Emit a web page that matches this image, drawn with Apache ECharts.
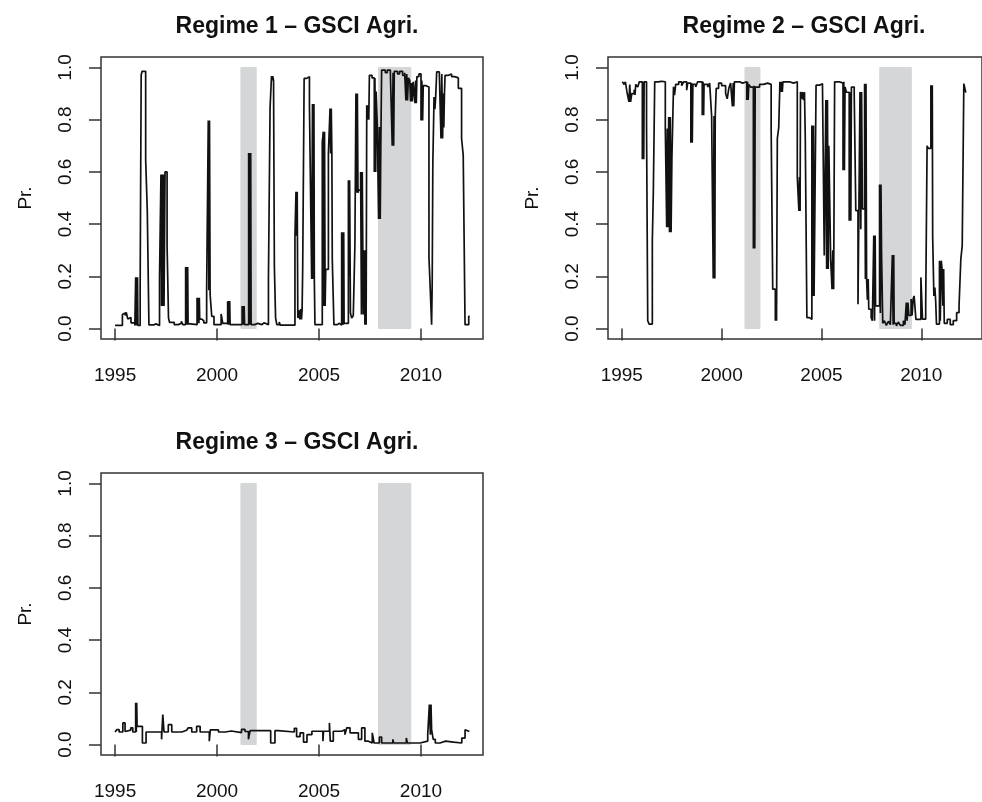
<!DOCTYPE html>
<html>
<head>
<meta charset="utf-8">
<script src="https://cdn.jsdelivr.net/npm/echarts@6/dist/echarts.min.js"></script>
<style>
  html, body { margin: 0; padding: 0; background: #ffffff; }
  #chart { width: 982px; height: 802px; }
</style>
</head>
<body>
<div id="chart"></div>
<script>
// Smoothed regime probabilities (step series: [year, probability] change points)
const regime1 = [
  [1995.00,0.012],[1995.36,0.054],[1995.44,0.060],[1995.50,0.050],[1995.55,0.062],[1995.62,0.037],[1995.70,0.042],[1995.78,0.022],[1995.97,0.012],
  [1996.01,0.196],[1996.04,0.012],[1996.06,0.196],[1996.08,0.012],[1996.10,0.196],[1996.12,0.012],
  [1996.23,0.156],[1996.28,0.970],[1996.32,0.985],[1996.50,0.647],[1996.58,0.450],[1996.66,0.014],[1996.90,0.018],[1997.00,0.012],
  [1997.18,0.195],[1997.25,0.590],[1997.28,0.086],[1997.31,0.590],[1997.34,0.086],[1997.37,0.590],[1997.40,0.086],[1997.45,0.600],[1997.55,0.317],[1997.62,0.040],[1997.67,0.024],
  [1997.90,0.015],[1998.10,0.020],[1998.25,0.028],[1998.32,0.015],
  [1998.46,0.236],[1998.49,0.015],[1998.51,0.236],[1998.54,0.015],[1998.56,0.236],[1998.58,0.018],[1998.70,0.025],[1998.78,0.015],
  [1999.02,0.118],[1999.05,0.020],[1999.08,0.118],[1999.11,0.020],[1999.13,0.118],[1999.15,0.036],[1999.25,0.030],[1999.35,0.022],
  [1999.49,0.147],[1999.57,0.797],[1999.60,0.147],[1999.63,0.797],[1999.66,0.130],[1999.74,0.047],[1999.85,0.015],
  [2000.20,0.056],[2000.28,0.020],
  [2000.52,0.105],[2000.55,0.015],[2000.57,0.105],[2000.60,0.015],[2000.62,0.105],[2000.64,0.015],
  [2001.23,0.086],[2001.26,0.015],[2001.28,0.086],[2001.31,0.015],[2001.33,0.086],[2001.35,0.015],
  [2001.55,0.672],[2001.58,0.015],[2001.60,0.672],[2001.63,0.015],[2001.65,0.672],[2001.67,0.015],
  [2001.85,0.020],[2002.00,0.015],[2002.20,0.022],[2002.30,0.015],
  [2002.52,0.190],[2002.60,0.846],[2002.67,0.967],[2002.70,0.950],[2002.73,0.967],[2002.77,0.950],[2002.81,0.240],[2002.87,0.041],[2002.93,0.015],
  [2003.05,0.025],[2003.10,0.013],[2003.40,0.018],[2003.45,0.013],
  [2003.82,0.355],[2003.87,0.524],[2003.90,0.355],[2003.93,0.524],[2003.96,0.040],
  [2004.02,0.070],[2004.06,0.035],[2004.10,0.075],[2004.14,0.035],[2004.17,0.070],
  [2004.20,0.233],[2004.27,0.958],[2004.40,0.965],[2004.53,0.855],[2004.61,0.860],[2004.64,0.190],[2004.68,0.860],[2004.72,0.190],[2004.75,0.860],[2004.77,0.190],[2004.80,0.015],
  [2005.16,0.714],[2005.21,0.754],[2005.24,0.086],[2005.27,0.754],[2005.30,0.086],[2005.33,0.227],[2005.46,0.670],[2005.54,0.843],[2005.57,0.670],[2005.60,0.843],[2005.63,0.670],[2005.65,0.265],[2005.73,0.015],
  [2005.90,0.020],[2006.00,0.013],
  [2006.11,0.369],[2006.14,0.015],[2006.16,0.369],[2006.19,0.015],[2006.21,0.369],[2006.23,0.020],
  [2006.44,0.568],[2006.47,0.200],[2006.50,0.568],[2006.54,0.060],[2006.60,0.040],[2006.68,0.050],
  [2006.76,0.323],[2006.81,0.900],[2006.85,0.520],[2006.88,0.900],[2006.91,0.520],[2006.94,0.530],
  [2007.04,0.600],[2007.08,0.054],[2007.12,0.600],[2007.17,0.054],[2007.21,0.300],[2007.25,0.015],[2007.28,0.300],[2007.31,0.015],
  [2007.34,0.855],[2007.37,0.800],[2007.40,0.855],[2007.44,0.800],[2007.47,0.970],[2007.60,0.960],
  [2007.71,0.600],[2007.74,0.960],[2007.78,0.600],[2007.80,0.908],[2007.86,0.772],[2007.92,0.420],[2007.96,0.772],[2008.00,0.420],[2008.03,0.700],[2008.07,0.990],
  [2008.25,0.980],[2008.35,0.990],[2008.50,0.975],[2008.59,0.700],[2008.63,0.980],[2008.66,0.700],[2008.69,0.985],[2008.85,0.975],[2008.95,0.985],[2009.10,0.970],[2009.20,0.980],
  [2009.26,0.874],[2009.30,0.975],[2009.34,0.874],[2009.38,0.960],[2009.45,0.950],[2009.49,0.870],[2009.53,0.940],[2009.57,0.870],[2009.62,0.945],
  [2009.70,0.863],[2009.74,0.950],[2009.77,0.863],[2009.80,0.965],[2009.90,0.975],
  [2010.00,0.797],[2010.04,0.950],[2010.08,0.797],[2010.11,0.930],[2010.25,0.925],[2010.39,0.273],[2010.44,0.177],[2010.52,0.015],[2010.55,0.177],[2010.58,0.630],
  [2010.64,0.887],[2010.68,0.840],[2010.72,0.887],[2010.77,0.983],[2010.90,0.975],
  [2010.98,0.728],[2011.02,0.975],[2011.06,0.728],[2011.09,0.900],[2011.12,0.770],[2011.15,0.900],[2011.18,0.970],[2011.35,0.975],[2011.50,0.965],[2011.65,0.960],
  [2011.83,0.920],[2011.99,0.728],[2012.07,0.664],[2012.16,0.015],[2012.34,0.047],[2012.39,0.047]
];

const regime2 = [
  [1995.03,0.945],[1995.12,0.935],[1995.18,0.945],[1995.26,0.906],[1995.36,0.868],[1995.40,0.935],[1995.44,0.868],[1995.50,0.900],[1995.62,0.915],[1995.66,0.895],[1995.70,0.935],[1995.80,0.925],[1995.88,0.945],
  [1996.03,0.648],[1996.07,0.945],[1996.10,0.648],[1996.12,0.945],[1996.24,0.778],[1996.30,0.030],[1996.37,0.017],[1996.53,0.337],[1996.58,0.522],[1996.65,0.945],[1996.80,0.947],[1997.00,0.945],
  [1997.18,0.766],[1997.25,0.388],[1997.28,0.766],[1997.31,0.388],[1997.35,0.810],[1997.39,0.369],[1997.43,0.810],[1997.47,0.369],[1997.51,0.650],[1997.59,0.926],[1997.64,0.894],[1997.70,0.935],
  [1997.85,0.945],[1998.00,0.930],[1998.10,0.945],[1998.25,0.913],[1998.30,0.940],
  [1998.46,0.712],[1998.50,0.940],[1998.53,0.712],[1998.56,0.935],[1998.70,0.925],[1998.80,0.945],
  [1999.03,0.817],[1999.07,0.945],[1999.10,0.817],[1999.12,0.935],[1999.30,0.925],[1999.40,0.940],
  [1999.50,0.814],[1999.58,0.192],[1999.62,0.814],[1999.66,0.192],[1999.68,0.814],[1999.73,0.920],[1999.85,0.940],[2000.00,0.930],
  [2000.20,0.900],[2000.28,0.880],[2000.36,0.920],[2000.45,0.940],
  [2000.54,0.851],[2000.58,0.940],[2000.61,0.851],[2000.64,0.945],[2000.90,0.940],[2001.05,0.945],
  [2001.26,0.875],[2001.30,0.945],[2001.33,0.875],[2001.36,0.935],[2001.45,0.925],
  [2001.59,0.307],[2001.63,0.930],[2001.66,0.307],[2001.68,0.925],[2001.90,0.935],[2002.10,0.940],[2002.30,0.935],
  [2002.48,0.772],[2002.56,0.151],[2002.69,0.030],[2002.72,0.151],[2002.75,0.030],[2002.79,0.727],[2002.86,0.770],[2002.92,0.945],
  [2002.97,0.906],[2003.01,0.945],[2003.04,0.906],[2003.07,0.945],[2003.40,0.940],[2003.60,0.945],
  [2003.79,0.580],[2003.87,0.450],[2003.90,0.580],[2003.93,0.450],[2003.95,0.906],[2004.00,0.880],[2004.05,0.906],[2004.10,0.875],[2004.15,0.906],
  [2004.19,0.727],[2004.27,0.042],[2004.40,0.035],[2004.52,0.778],[2004.56,0.125],[2004.60,0.778],[2004.63,0.125],[2004.73,0.932],[2004.90,0.938],[2005.05,0.935],
  [2005.14,0.280],[2005.22,0.875],[2005.26,0.228],[2005.30,0.875],[2005.34,0.228],[2005.37,0.700],[2005.46,0.266],[2005.53,0.151],[2005.57,0.300],[2005.61,0.151],[2005.66,0.945],[2005.90,0.940],
  [2006.08,0.606],[2006.12,0.945],[2006.15,0.606],[2006.18,0.925],[2006.25,0.905],
  [2006.39,0.413],[2006.43,0.905],[2006.47,0.413],[2006.50,0.925],[2006.64,0.900],[2006.72,0.452],[2006.83,0.093],
  [2006.93,0.906],[2006.97,0.380],[2007.01,0.906],[2007.05,0.458],[2007.16,0.938],[2007.20,0.190],[2007.23,0.938],[2007.26,0.190],[2007.30,0.110],[2007.34,0.190],[2007.37,0.074],
  [2007.49,0.042],[2007.55,0.030],[2007.62,0.356],[2007.66,0.030],[2007.69,0.356],[2007.71,0.087],
  [2007.91,0.552],[2007.95,0.060],[2007.98,0.552],[2008.01,0.285],[2008.07,0.020],[2008.15,0.030],[2008.25,0.012],[2008.35,0.028],[2008.45,0.015],
  [2008.55,0.282],[2008.59,0.015],[2008.62,0.282],[2008.64,0.020],[2008.75,0.010],[2008.85,0.025],[2008.95,0.012],[2009.10,0.030],[2009.18,0.015],
  [2009.25,0.100],[2009.29,0.030],[2009.33,0.100],[2009.38,0.050],[2009.49,0.113],[2009.54,0.050],[2009.59,0.113],[2009.64,0.125],[2009.73,0.035],
  [2009.98,0.196],[2010.06,0.036],[2010.22,0.087],[2010.29,0.700],[2010.35,0.690],[2010.48,0.932],[2010.52,0.690],[2010.55,0.932],[2010.57,0.350],[2010.63,0.125],
  [2010.68,0.157],[2010.72,0.106],[2010.76,0.017],
  [2010.91,0.260],[2010.95,0.030],[2011.00,0.260],[2011.04,0.228],[2011.08,0.087],[2011.12,0.228],[2011.15,0.020],[2011.30,0.035],[2011.45,0.015],[2011.60,0.030],
  [2011.77,0.061],[2011.89,0.087],[2011.98,0.266],[2012.05,0.318],[2012.13,0.938],[2012.22,0.906],[2012.26,0.906]
];

const regime3 = [
  [1995.00,0.048],[1995.08,0.057],[1995.20,0.048],[1995.38,0.083],[1995.49,0.050],[1995.58,0.055],[1995.77,0.064],[1995.87,0.048],
  [1996.01,0.160],[1996.04,0.048],[1996.06,0.160],[1996.08,0.070],[1996.22,0.070],[1996.34,0.006],[1996.52,0.048],
  [1997.28,0.020],[1997.34,0.115],[1997.40,0.048],[1997.61,0.076],[1997.78,0.048],
  [1998.27,0.055],[1998.51,0.048],[1998.59,0.064],[1998.76,0.048],[1999.00,0.070],[1999.17,0.048],
  [1999.62,0.013],[1999.67,0.056],[2000.07,0.048],[2000.40,0.052],[2000.70,0.046],
  [2001.20,0.058],[2001.37,0.050],[2001.54,0.020],[2001.62,0.053],
  [2002.63,0.006],[2002.84,0.053],[2003.00,0.048],
  [2003.79,0.062],[2003.90,0.030],[2004.07,0.045],[2004.24,0.009],[2004.41,0.038],[2004.65,0.051],
  [2005.19,0.013],[2005.22,0.051],[2005.51,0.083],[2005.55,0.013],[2005.70,0.051],
  [2006.11,0.057],[2006.27,0.038],[2006.36,0.064],[2006.52,0.045],
  [2006.93,0.020],[2007.09,0.064],[2007.25,0.013],[2007.42,0.006],[2007.61,0.045],[2007.70,0.006],[2007.96,0.029],[2008.07,0.006],
  [2008.62,0.020],[2008.66,0.006],[2009.28,0.025],[2009.33,0.006],
  [2009.95,0.013],[2010.33,0.038],[2010.41,0.153],[2010.46,0.038],[2010.49,0.153],[2010.52,0.057],[2010.60,0.020],[2010.70,0.006],
  [2010.93,0.013],[2011.20,0.009],[2011.60,0.006],
  [2012.00,0.025],[2012.16,0.057],[2012.25,0.050],[2012.37,0.050]
];

// NBER recession periods, shaded in every panel
const recessionStarts = [2001.17, 2007.92];
const recessionEnds = [2001.92, 2009.50];

const panelTitles = ['Regime 1 \u2013 GSCI Agri.', 'Regime 2 \u2013 GSCI Agri.', 'Regime 3 \u2013 GSCI Agri.'];
const yearTicks = [1995, 2000, 2005, 2010];
const probTicks = [0, 0.2, 0.4, 0.6, 0.8, 1.0];

const FONT = "'Liberation Sans', Arial, Helvetica, sans-serif";
const INK = '#111111';
const X_MIN = 1994.31, X_MAX = 2013.04;
const Y_MIN = -0.04, Y_MAX = 1.04;

const panels = [
  { left: 101, top: 57, data: regime1 },
  { left: 608, top: 57, data: regime2 },
  { left: 101, top: 473, data: regime3 }
];

const chart = echarts.init(document.getElementById('chart'), null, { renderer: 'canvas' });

const option = {
  animation: false,
  backgroundColor: '#ffffff',
  title: panels.map((p, i) => ({
    text: panelTitles[i],
    left: p.left + 191,
    top: p.top - 47,
    textAlign: 'center',
    textStyle: { fontFamily: FONT, fontWeight: 'bold', fontSize: 23, color: INK }
  })),
  grid: panels.map(p => ({
    left: p.left, top: p.top, width: 382, height: 282,
    show: true, borderColor: '#333', borderWidth: 1.5, backgroundColor: 'transparent'
  })),
  xAxis: panels.map((p, i) => ({
    type: 'value', gridIndex: i, min: X_MIN, max: X_MAX,
    axisLine: { show: false },
    splitLine: { show: false },
    axisTick: { show: true, customValues: yearTicks, length: 12, lineStyle: { color: '#333', width: 1.5 } },
    axisLabel: { customValues: yearTicks, margin: 27, fontSize: 19, fontFamily: FONT, color: INK,
      formatter: v => String(Math.round(v)) }
  })),
  yAxis: panels.map((p, i) => ({
    type: 'value', gridIndex: i, min: Y_MIN, max: Y_MAX,
    name: 'Pr.', nameLocation: 'middle', nameGap: 66,
    nameTextStyle: { fontFamily: FONT, fontSize: 19, color: INK },
    axisLine: { show: false },
    splitLine: { show: false },
    axisTick: { show: true, customValues: probTicks, length: 12, lineStyle: { color: '#333', width: 1.5 } },
    axisLabel: { customValues: probTicks, rotate: 90, margin: 26, fontSize: 19, fontFamily: FONT, color: INK,
      formatter: v => v.toFixed(1) }
  })),
  series: panels.map((p, i) => ({
    type: 'line', xAxisIndex: i, yAxisIndex: i,
    step: 'end', showSymbol: false, symbol: 'none', clip: true,
    data: p.data,
    lineStyle: { color: INK, width: 1.7 },
    markArea: {
      silent: true,
      itemStyle: { color: '#d5d6d8', borderColor: '#d5d6d8', borderWidth: 1 },
      data: recessionStarts.map((s, k) => [{ coord: [s, 0] }, { coord: [recessionEnds[k], 1] }])
    }
  }))
};

chart.setOption(option);
</script>
</body>
</html>
